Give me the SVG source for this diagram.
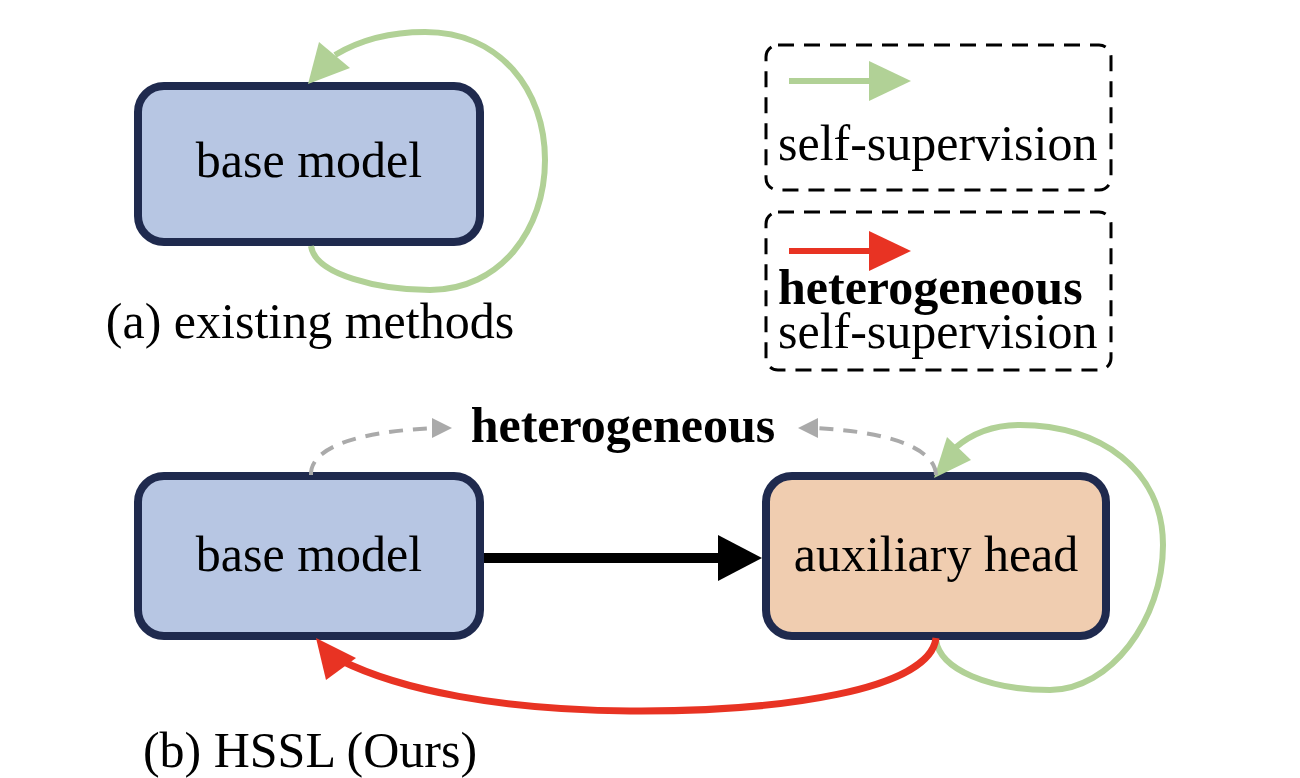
<svg xmlns="http://www.w3.org/2000/svg" width="1300" height="778" viewBox="0 0 1300 778">
<style>
.box{stroke:#1f2a4e;stroke-width:8}
.blue{fill:#b7c6e3}
.orange{fill:#f0cdb0}
.t{font-family:"Liberation Serif",serif;font-size:50px;fill:#000}
.b{font-weight:bold}
.leg{fill:none;stroke:#000;stroke-width:3;stroke-dasharray:16 10}
.green{fill:none;stroke:#b1d196;stroke-width:6}
.red{fill:none;stroke:#e83323;stroke-width:7}
.gray{fill:none;stroke:#aaaaaa;stroke-width:4;stroke-dasharray:14 10}
</style>
<rect width="1300" height="778" fill="#fff"/>
<g id="node-a-base">
<rect class="box blue" x="138" y="86" width="342" height="156" rx="26"/>
<text class="t" x="309" y="177" text-anchor="middle">base model</text>
</g>
<text class="t" x="310" y="338" text-anchor="middle">(a) existing methods</text>
<g id="legend1">
<rect class="leg" x="766" y="45" width="345" height="145" rx="12"/>
<line x1="789" y1="81" x2="872" y2="81" stroke="#b1d196" stroke-width="6"/>
<polygon points="869,61 911,81 869,101" fill="#b1d196"/>
<text class="t" x="778" y="160">self-supervision</text>
</g>
<g id="legend2">
<rect class="leg" x="766" y="212" width="345" height="158" rx="12"/>
<line x1="789" y1="251" x2="872" y2="251" stroke="#e83323" stroke-width="6"/>
<polygon points="869,231 911,251 869,271" fill="#e83323"/>
<text class="t b" x="778" y="304">heterogeneous</text>
<text class="t" x="778" y="348">self-supervision</text>
</g>
<g id="node-b-base">
<rect class="box blue" x="138" y="476" width="342" height="160" rx="26"/>
<text class="t" x="309" y="571" text-anchor="middle">base model</text>
</g>
<g id="node-aux">
<rect class="box orange" x="766" y="476" width="340" height="160" rx="26"/>
<text class="t" x="936" y="571" text-anchor="middle">auxiliary head</text>
</g>
<text class="t b" x="623" y="442" text-anchor="middle">heterogeneous</text>
<text class="t" x="310" y="767" text-anchor="middle">(b) HSSL (Ours)</text>
<g id="connectors">
<path class="green" d="M311,246 C315,275 380,290 430,290 C500,290 545,230 545,160 C545,90 500,32 425,32 C390,32 360,40 335,55"/>
<polygon points="308,84 319,42 350,68" fill="#b1d196"/>
<path class="green" d="M936,640 C940,670 990,690 1050,690 C1110,690 1163,620 1163,545 C1163,470 1100,425 1020,425 C990,425 970,435 955,448"/>
<polygon points="934,478 947,437 971,460" fill="#b1d196"/>
<path class="gray" d="M311,475 C310,450 350,432 435,428"/>
<polygon points="432,418 452,428 432,438" fill="#aaaaaa"/>
<path class="gray" d="M936,475 C935,450 895,432 815,428"/>
<polygon points="818,418 798,428 818,438" fill="#aaaaaa"/>
<line x1="484" y1="558" x2="722" y2="558" stroke="#000" stroke-width="10"/>
<polygon points="718,535 762,558 718,581" fill="#000"/>
<path class="red" d="M936,638 C930,690 780,712 630,711 C500,710 400,690 340,660"/>
<polygon points="316,638 326,680 356,658" fill="#e83323"/>
</g>
</svg>
